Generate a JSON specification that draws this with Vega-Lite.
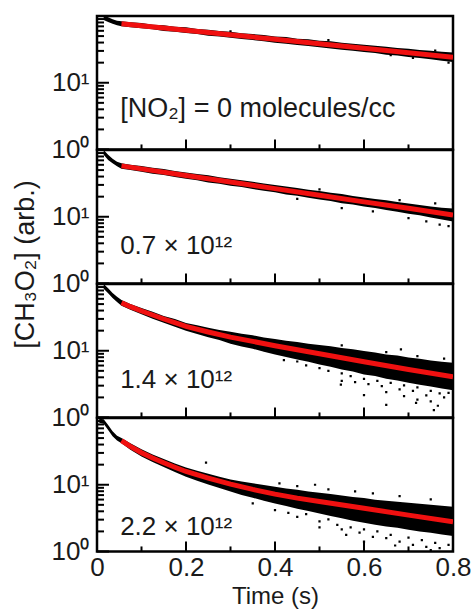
{
  "$schema": "https://vega.github.io/schema/vega-lite/v6.json",
  "background": "white",
  "padding": {"left": 9, "top": 14, "right": 2, "bottom": 2},
  "spacing": 0,
  "bounds": "flush",
  "config": {
    "view": {"stroke": "black", "strokeWidth": 2.5},
    "font": "Liberation Sans",
    "axis": {"labelFont": "Liberation Sans", "titleFont": "Liberation Sans", "labelColor": "#1a1a1a", "titleColor": "#1a1a1a", "labelFontSize": 26, "domain": false, "ticks": false, "tickSize": 0, "grid": false, "labelFlush": false, "labelOverlap": false, "titleFontWeight": "normal"}
  },
  "datasets": {
    "ticks": [
      {"k":"ymin","v":2},{"k":"ymin","v":3},{"k":"ymin","v":4},{"k":"ymin","v":5},{"k":"ymin","v":6},{"k":"ymin","v":7},{"k":"ymin","v":8},{"k":"ymin","v":9},
      {"k":"ymin","v":20},{"k":"ymin","v":30},{"k":"ymin","v":40},{"k":"ymin","v":50},{"k":"ymin","v":60},{"k":"ymin","v":70},{"k":"ymin","v":80},{"k":"ymin","v":90},
      {"k":"ymaj","v":1},{"k":"ymaj","v":10},
      {"k":"xmin","v":0.1},{"k":"xmin","v":0.3},{"k":"xmin","v":0.5},{"k":"xmin","v":0.7},
      {"k":"xmaj","v":0.2},{"k":"xmaj","v":0.4},{"k":"xmaj","v":0.6}
    ],
    "band": [
      {"p":1,"t":0.015,"c":102,"lo":87.1},{"p":1,"t":0.025,"c":95.5,"lo":81.3},{"p":1,"t":0.035,"c":89.1,"lo":76.7},{"p":1,"t":0.045,"c":85.1,"lo":72.4},{"p":1,"t":0.055,"c":83.2,"lo":70.0},{"p":1,"t":0.075,"c":80.4,"lo":67.6},{"p":1,"t":0.1,"c":78.5,"lo":65.3},{"p":1,"t":0.125,"c":74.1,"lo":63.1},{"p":1,"t":0.15,"c":72.4,"lo":59.6},{"p":1,"t":0.175,"c":69.2,"lo":58.2},{"p":1,"t":0.2,"c":67.6,"lo":55.6},{"p":1,"t":0.225,"c":63.8,"lo":53.7},{"p":1,"t":0.25,"c":62.4,"lo":50.7},{"p":1,"t":0.275,"c":59.6,"lo":49.5},{"p":1,"t":0.3,"c":58.2,"lo":47.3},{"p":1,"t":0.325,"c":55.0,"lo":45.2},{"p":1,"t":0.35,"c":53.7,"lo":43.7},{"p":1,"t":0.375,"c":51.9,"lo":41.7},{"p":1,"t":0.4,"c":49.5,"lo":39.8},{"p":1,"t":0.425,"c":48.4,"lo":38.5},{"p":1,"t":0.45,"c":45.7,"lo":36.7},{"p":1,"t":0.475,"c":44.7,"lo":35.5},{"p":1,"t":0.5,"c":42.7,"lo":33.9},{"p":1,"t":0.525,"c":41.7,"lo":32.7},{"p":1,"t":0.55,"c":39.8,"lo":31.3},{"p":1,"t":0.575,"c":38.5,"lo":30.2},{"p":1,"t":0.6,"c":37.2,"lo":28.8},{"p":1,"t":0.625,"c":35.9,"lo":27.9},{"p":1,"t":0.65,"c":34.7,"lo":26.3},{"p":1,"t":0.675,"c":33.1,"lo":25.7},{"p":1,"t":0.7,"c":32.4,"lo":24.3},{"p":1,"t":0.725,"c":30.9,"lo":23.4},{"p":1,"t":0.75,"c":30.2,"lo":22.4},{"p":1,"t":0.775,"c":29.2,"lo":21.4},{"p":1,"t":0.8,"c":28.5,"lo":20.4},
      {"p":2,"t":0.015,"c":100,"lo":85.1},{"p":2,"t":0.025,"c":85.1,"lo":70.8},{"p":2,"t":0.035,"c":74.1,"lo":63.1},{"p":2,"t":0.045,"c":66.8,"lo":56.9},{"p":2,"t":0.055,"c":63.1,"lo":52.5},{"p":2,"t":0.075,"c":60.3,"lo":50.1},{"p":2,"t":0.1,"c":57.5,"lo":47.3},{"p":2,"t":0.125,"c":54.3,"lo":44.2},{"p":2,"t":0.15,"c":51.9,"lo":42.2},{"p":2,"t":0.175,"c":48.4,"lo":39.4},{"p":2,"t":0.2,"c":46.2,"lo":37.2},{"p":2,"t":0.225,"c":43.7,"lo":35.1},{"p":2,"t":0.25,"c":41.7,"lo":32.7},{"p":2,"t":0.275,"c":38.9,"lo":31.3},{"p":2,"t":0.3,"c":37.2,"lo":29.2},{"p":2,"t":0.325,"c":35.1,"lo":27.9},{"p":2,"t":0.35,"c":33.5,"lo":26.0},{"p":2,"t":0.375,"c":31.6,"lo":24.5},{"p":2,"t":0.4,"c":29.9,"lo":23.2},{"p":2,"t":0.425,"c":28.5,"lo":21.6},{"p":2,"t":0.45,"c":26.9,"lo":20.7},{"p":2,"t":0.475,"c":25.4,"lo":19.3},{"p":2,"t":0.5,"c":24.3,"lo":18.2},{"p":2,"t":0.525,"c":22.9,"lo":17.2},{"p":2,"t":0.55,"c":21.9,"lo":16.0},{"p":2,"t":0.575,"c":20.4,"lo":15.3},{"p":2,"t":0.6,"c":19.5,"lo":14.3},{"p":2,"t":0.625,"c":18.4,"lo":13.5},{"p":2,"t":0.65,"c":17.6,"lo":12.6},{"p":2,"t":0.675,"c":16.6,"lo":11.9},{"p":2,"t":0.7,"c":15.8,"lo":11.1},{"p":2,"t":0.725,"c":15.0,"lo":10.5},{"p":2,"t":0.75,"c":14.3,"lo":9.77},{"p":2,"t":0.775,"c":13.6,"lo":9.12},{"p":2,"t":0.8,"c":13.3,"lo":8.51},
      {"p":3,"t":0.015,"c":100,"lo":85.1},{"p":3,"t":0.025,"c":86.1,"lo":72.4},{"p":3,"t":0.035,"c":73.3,"lo":61.7},{"p":3,"t":0.045,"c":64.6,"lo":53.7},{"p":3,"t":0.055,"c":57.5,"lo":47.3},{"p":3,"t":0.075,"c":50.1,"lo":41.2},{"p":3,"t":0.1,"c":43.7,"lo":35.1},{"p":3,"t":0.125,"c":38.5,"lo":30.2},{"p":3,"t":0.15,"c":33.1,"lo":26.3},{"p":3,"t":0.175,"c":29.9,"lo":22.9},{"p":3,"t":0.2,"c":26.0,"lo":20.0},{"p":3,"t":0.225,"c":24.0,"lo":17.8},{"p":3,"t":0.25,"c":22.1,"lo":16.0},{"p":3,"t":0.275,"c":20.4,"lo":14.5},{"p":3,"t":0.3,"c":19.3,"lo":12.7},{"p":3,"t":0.325,"c":18.0,"lo":11.6},{"p":3,"t":0.35,"c":17.0,"lo":10.7},{"p":3,"t":0.375,"c":15.8,"lo":9.66},{"p":3,"t":0.4,"c":15.0,"lo":8.81},{"p":3,"t":0.425,"c":14.1,"lo":8.04},{"p":3,"t":0.45,"c":13.5,"lo":7.41},{"p":3,"t":0.475,"c":12.7,"lo":6.84},{"p":3,"t":0.5,"c":12.2,"lo":6.24},{"p":3,"t":0.525,"c":11.7,"lo":5.75},{"p":3,"t":0.55,"c":11.0,"lo":5.25},{"p":3,"t":0.575,"c":10.5,"lo":4.90},{"p":3,"t":0.6,"c":9.89,"lo":4.42},{"p":3,"t":0.625,"c":9.44,"lo":4.17},{"p":3,"t":0.65,"c":8.81,"lo":3.80},{"p":3,"t":0.675,"c":8.51,"lo":3.59},{"p":3,"t":0.7,"c":7.94,"lo":3.31},{"p":3,"t":0.725,"c":7.59,"lo":3.09},{"p":3,"t":0.75,"c":7.16,"lo":2.92},{"p":3,"t":0.775,"c":6.84,"lo":2.72},{"p":3,"t":0.8,"c":6.61,"lo":2.57},
      {"p":4,"t":0.005,"c":97.7,"lo":85.1},{"p":4,"t":0.015,"c":95.5,"lo":82.2},{"p":4,"t":0.025,"c":78.5,"lo":66.1},{"p":4,"t":0.035,"c":63.1,"lo":53.1},{"p":4,"t":0.045,"c":54.3,"lo":46.2},{"p":4,"t":0.055,"c":50.1,"lo":41.7},{"p":4,"t":0.075,"c":41.7,"lo":33.5},{"p":4,"t":0.1,"c":33.9,"lo":26.6},{"p":4,"t":0.125,"c":28.5,"lo":21.9},{"p":4,"t":0.15,"c":24.3,"lo":18.4},{"p":4,"t":0.175,"c":20.9,"lo":15.5},{"p":4,"t":0.2,"c":18.2,"lo":13.2},{"p":4,"t":0.225,"c":16.2,"lo":11.5},{"p":4,"t":0.25,"c":14.6,"lo":10.1},{"p":4,"t":0.275,"c":13.2,"lo":8.91},{"p":4,"t":0.3,"c":12.0,"lo":7.94},{"p":4,"t":0.325,"c":11.2,"lo":7.00},{"p":4,"t":0.35,"c":10.5,"lo":6.38},{"p":4,"t":0.375,"c":9.89,"lo":5.75},{"p":4,"t":0.4,"c":9.33,"lo":5.25},{"p":4,"t":0.425,"c":8.81,"lo":4.79},{"p":4,"t":0.45,"c":8.41,"lo":4.37},{"p":4,"t":0.475,"c":7.94,"lo":4.03},{"p":4,"t":0.5,"c":7.59,"lo":3.72},{"p":4,"t":0.525,"c":7.24,"lo":3.39},{"p":4,"t":0.55,"c":6.92,"lo":3.16},{"p":4,"t":0.575,"c":6.53,"lo":2.88},{"p":4,"t":0.6,"c":6.31,"lo":2.69},{"p":4,"t":0.625,"c":5.96,"lo":2.51},{"p":4,"t":0.65,"c":5.75,"lo":2.37},{"p":4,"t":0.675,"c":5.56,"lo":2.26},{"p":4,"t":0.7,"c":5.37,"lo":2.11},{"p":4,"t":0.725,"c":5.19,"lo":2.00},{"p":4,"t":0.75,"c":5.01,"lo":1.91},{"p":4,"t":0.775,"c":4.84,"lo":1.80},{"p":4,"t":0.8,"c":4.68,"lo":1.70}
    ],
    "fit": [
      {"p":1,"t":0.055,"c":76.4},{"p":1,"t":0.1,"c":71.3},{"p":1,"t":0.2,"c":61.1},{"p":1,"t":0.3,"c":52.3},{"p":1,"t":0.4,"c":44.8},{"p":1,"t":0.5,"c":38.4},{"p":1,"t":0.6,"c":32.9},{"p":1,"t":0.7,"c":28.2},{"p":1,"t":0.8,"c":24.1},
      {"p":2,"t":0.055,"c":57.8},{"p":2,"t":0.1,"c":52.1},{"p":2,"t":0.2,"c":41.6},{"p":2,"t":0.3,"c":33.1},{"p":2,"t":0.4,"c":26.4},{"p":2,"t":0.5,"c":21.0},{"p":2,"t":0.6,"c":16.7},{"p":2,"t":0.7,"c":13.4},{"p":2,"t":0.8,"c":10.6},
      {"p":3,"t":0.055,"c":52.5},{"p":3,"t":0.075,"c":45.7},{"p":3,"t":0.1,"c":39.4},{"p":3,"t":0.125,"c":34.3},{"p":3,"t":0.15,"c":29.9},{"p":3,"t":0.175,"c":26.3},{"p":3,"t":0.2,"c":23.2},{"p":3,"t":0.25,"c":19.1},{"p":3,"t":0.3,"c":16.0},{"p":3,"t":0.35,"c":13.8},{"p":3,"t":0.4,"c":11.9},{"p":3,"t":0.5,"c":9.02},{"p":3,"t":0.6,"c":6.84},{"p":3,"t":0.7,"c":5.25},{"p":3,"t":0.8,"c":4.07},
      {"p":4,"t":0.055,"c":45.7},{"p":4,"t":0.075,"c":37.6},{"p":4,"t":0.1,"c":30.2},{"p":4,"t":0.125,"c":25.1},{"p":4,"t":0.15,"c":21.4},{"p":4,"t":0.175,"c":18.3},{"p":4,"t":0.2,"c":15.8},{"p":4,"t":0.25,"c":12.6},{"p":4,"t":0.3,"c":10.2},{"p":4,"t":0.35,"c":8.51},{"p":4,"t":0.4,"c":7.24},{"p":4,"t":0.45,"c":6.31},{"p":4,"t":0.5,"c":5.62},{"p":4,"t":0.6,"c":4.44},{"p":4,"t":0.7,"c":3.51},{"p":4,"t":0.8,"c":2.80}
    ],
    "pts": [
      {"p":1,"t":0.3,"c":58.9},{"p":1,"t":0.52,"c":43.5},{"p":1,"t":0.66,"c":26.0},{"p":1,"t":0.76,"c":30.2},{"p":1,"t":0.79,"c":20.0},{"p":1,"t":0.71,"c":23.6},
      {"p":2,"t":0.45,"c":18.6},{"p":2,"t":0.5,"c":25.7},{"p":2,"t":0.55,"c":13.5},{"p":2,"t":0.62,"c":12.0},{"p":2,"t":0.7,"c":9.55},{"p":2,"t":0.74,"c":8.5},{"p":2,"t":0.76,"c":15.8},{"p":2,"t":0.77,"c":7.6},{"p":2,"t":0.79,"c":7.24},{"p":2,"t":0.8,"c":15.5},{"p":2,"t":0.68,"c":17.8},
      {"p":3,"t":0.42,"c":7.24},{"p":3,"t":0.45,"c":6.9},{"p":3,"t":0.47,"c":6.03},{"p":3,"t":0.5,"c":5.5},{"p":3,"t":0.52,"c":5.0},{"p":3,"t":0.55,"c":4.57},{"p":3,"t":0.55,"c":3.55},{"p":3,"t":0.548,"c":3.1},{"p":3,"t":0.57,"c":4.17},{"p":3,"t":0.58,"c":3.39},{"p":3,"t":0.6,"c":3.8},{"p":3,"t":0.6,"c":2.16},{"p":3,"t":0.61,"c":3.16},{"p":3,"t":0.63,"c":3.55},{"p":3,"t":0.64,"c":2.95},{"p":3,"t":0.65,"c":2.4},{"p":3,"t":0.65,"c":1.55},{"p":3,"t":0.66,"c":3.31},{"p":3,"t":0.68,"c":2.63},{"p":3,"t":0.69,"c":3.02},{"p":3,"t":0.69,"c":2.09},{"p":3,"t":0.71,"c":2.51},{"p":3,"t":0.717,"c":1.65},{"p":3,"t":0.72,"c":2.82},{"p":3,"t":0.72,"c":1.86},{"p":3,"t":0.74,"c":2.14},{"p":3,"t":0.75,"c":2.51},{"p":3,"t":0.75,"c":1.74},{"p":3,"t":0.757,"c":1.29},{"p":3,"t":0.766,"c":1.5},{"p":3,"t":0.77,"c":2.29},{"p":3,"t":0.78,"c":2.0},{"p":3,"t":0.79,"c":2.34},{"p":3,"t":0.55,"c":12.0},{"p":3,"t":0.65,"c":9.55},{"p":3,"t":0.683,"c":10.5},{"p":3,"t":0.72,"c":8.3},{"p":3,"t":0.78,"c":7.6},
      {"p":4,"t":0.245,"c":21.4},{"p":4,"t":0.35,"c":5.25},{"p":4,"t":0.4,"c":4.17},{"p":4,"t":0.41,"c":10.5},{"p":4,"t":0.43,"c":3.8},{"p":4,"t":0.45,"c":3.31},{"p":4,"t":0.45,"c":9.55},{"p":4,"t":0.47,"c":3.63},{"p":4,"t":0.49,"c":10.0},{"p":4,"t":0.5,"c":2.82},{"p":4,"t":0.5,"c":2.29},{"p":4,"t":0.52,"c":3.02},{"p":4,"t":0.52,"c":8.51},{"p":4,"t":0.54,"c":2.51},{"p":4,"t":0.55,"c":2.14},{"p":4,"t":0.56,"c":1.78},{"p":4,"t":0.57,"c":2.29},{"p":4,"t":0.58,"c":7.94},{"p":4,"t":0.59,"c":1.91},{"p":4,"t":0.6,"c":2.14},{"p":4,"t":0.6,"c":1.41},{"p":4,"t":0.62,"c":1.66},{"p":4,"t":0.62,"c":7.41},{"p":4,"t":0.63,"c":2.0},{"p":4,"t":0.65,"c":1.58},{"p":4,"t":0.66,"c":1.78},{"p":4,"t":0.67,"c":1.23},{"p":4,"t":0.68,"c":1.41},{"p":4,"t":0.68,"c":6.76},{"p":4,"t":0.7,"c":1.62},{"p":4,"t":0.71,"c":1.26},{"p":4,"t":0.73,"c":1.48},{"p":4,"t":0.74,"c":1.17},{"p":4,"t":0.75,"c":1.05},{"p":4,"t":0.75,"c":6.03},{"p":4,"t":0.76,"c":1.35},{"p":4,"t":0.77,"c":1.12},{"p":4,"t":0.79,"c":1.26},{"p":4,"t":0.8,"c":1.07}
    ],
    "annot": [
      {"p":1,"label":"[NO₂] = 0 molecules/cc"},
      {"p":2,"label":"0.7 × 10¹²"},
      {"p":3,"label":"1.4 × 10¹²"},
      {"p":4,"label":"2.2 × 10¹²"}
    ]
  },
  "vconcat": [
    {
      "width": 356, "height": 133.5,
      "layer": [
        {"data": {"name": "band"}, "transform": [{"filter": "datum.p == 1"}], "mark": {"type": "area", "color": "black", "clip": true},
          "encoding": {
            "x": {"field": "t", "type": "quantitative", "scale": {"domain": [0, 0.8], "nice": false, "zero": false}, "axis": {"values": [0,0.2,0.4,0.6,0.8], "labels": false, "title": null}},
            "y": {"field": "c", "type": "quantitative", "scale": {"type": "log", "domain": [1, 100], "nice": false},
              "axis": {"values": [1,10], "labelExpr": "datum.value == 1 ? '10⁰' : '10¹'", "labelPadding": 8, "labelBaseline": "middle", "title": null}},
            "y2": {"field": "lo"}}},
        {"data": {"name": "pts"}, "transform": [{"filter": "datum.p == 1"}], "mark": {"type": "point", "shape": "square", "filled": true, "size": 5, "color": "black", "opacity": 1, "clip": true},
          "encoding": {"x": {"field": "t", "type": "quantitative"}, "y": {"field": "c", "type": "quantitative"}}},
        {"data": {"name": "fit"}, "transform": [{"filter": "datum.p == 1"}], "mark": {"type": "line", "color": "#f01010", "strokeWidth": 5, "clip": true},
          "encoding": {"x": {"field": "t", "type": "quantitative"}, "y": {"field": "c", "type": "quantitative"}}},
        {"data": {"name": "annot"}, "transform": [{"filter": "datum.p == 1"}], "mark": {"type": "text", "align": "left", "baseline": "middle", "fontSize": 27, "font": "Liberation Sans", "color": "#1a1a1a"},
          "encoding": {"x": {"datum": 0.052, "type": "quantitative"}, "y": {"datum": 4.1, "type": "quantitative"}, "text": {"field": "label", "type": "nominal"}}},
        {"data": {"name": "ticks"}, "transform": [{"filter": "datum.k == 'ymin'"}], "mark": {"type": "rule", "color": "black", "strokeWidth": 2},
          "encoding": {"x": {"datum": 0, "type": "quantitative"}, "x2": {"datum": 0.0157}, "y": {"field": "v", "type": "quantitative"}}},
        {"data": {"name": "ticks"}, "transform": [{"filter": "datum.k == 'ymaj'"}], "mark": {"type": "rule", "color": "black", "strokeWidth": 2},
          "encoding": {"x": {"datum": 0, "type": "quantitative"}, "x2": {"datum": 0.027}, "y": {"field": "v", "type": "quantitative"}}},
        {"data": {"name": "ticks"}, "transform": [{"filter": "datum.k == 'xmin'"}], "mark": {"type": "rule", "color": "black", "strokeWidth": 2},
          "encoding": {"x": {"field": "v", "type": "quantitative"}, "y": {"datum": 1, "type": "quantitative"}, "y2": {"datum": 1.19}}},
        {"data": {"name": "ticks"}, "transform": [{"filter": "datum.k == 'xmaj'"}], "mark": {"type": "rule", "color": "black", "strokeWidth": 2},
          "encoding": {"x": {"field": "v", "type": "quantitative"}, "y": {"datum": 1, "type": "quantitative"}, "y2": {"datum": 1.41}}}
      ]
    },
    {
      "width": 356, "height": 133.5,
      "layer": [
        {"data": {"name": "band"}, "transform": [{"filter": "datum.p == 2"}], "mark": {"type": "area", "color": "black", "clip": true},
          "encoding": {
            "x": {"field": "t", "type": "quantitative", "scale": {"domain": [0, 0.8], "nice": false, "zero": false}, "axis": {"values": [0,0.2,0.4,0.6,0.8], "labels": false, "title": null}},
            "y": {"field": "c", "type": "quantitative", "scale": {"type": "log", "domain": [1, 100], "nice": false},
              "axis": {"values": [1,10], "labelExpr": "datum.value == 1 ? '10⁰' : '10¹'", "labelPadding": 8, "labelBaseline": "middle", "title": null}},
            "y2": {"field": "lo"}}},
        {"data": {"name": "pts"}, "transform": [{"filter": "datum.p == 2"}], "mark": {"type": "point", "shape": "square", "filled": true, "size": 5, "color": "black", "opacity": 1, "clip": true},
          "encoding": {"x": {"field": "t", "type": "quantitative"}, "y": {"field": "c", "type": "quantitative"}}},
        {"data": {"name": "fit"}, "transform": [{"filter": "datum.p == 2"}], "mark": {"type": "line", "color": "#f01010", "strokeWidth": 5, "clip": true},
          "encoding": {"x": {"field": "t", "type": "quantitative"}, "y": {"field": "c", "type": "quantitative"}}},
        {"data": {"name": "annot"}, "transform": [{"filter": "datum.p == 2"}], "mark": {"type": "text", "align": "left", "baseline": "middle", "fontSize": 26, "font": "Liberation Sans", "color": "#1a1a1a"},
          "encoding": {"x": {"datum": 0.052, "type": "quantitative"}, "y": {"datum": 3.6, "type": "quantitative"}, "text": {"field": "label", "type": "nominal"}}},
        {"data": {"name": "ticks"}, "transform": [{"filter": "datum.k == 'ymin'"}], "mark": {"type": "rule", "color": "black", "strokeWidth": 2},
          "encoding": {"x": {"datum": 0, "type": "quantitative"}, "x2": {"datum": 0.0157}, "y": {"field": "v", "type": "quantitative"}}},
        {"data": {"name": "ticks"}, "transform": [{"filter": "datum.k == 'ymaj'"}], "mark": {"type": "rule", "color": "black", "strokeWidth": 2},
          "encoding": {"x": {"datum": 0, "type": "quantitative"}, "x2": {"datum": 0.027}, "y": {"field": "v", "type": "quantitative"}}},
        {"data": {"name": "ticks"}, "transform": [{"filter": "datum.k == 'xmin'"}], "mark": {"type": "rule", "color": "black", "strokeWidth": 2},
          "encoding": {"x": {"field": "v", "type": "quantitative"}, "y": {"datum": 1, "type": "quantitative"}, "y2": {"datum": 1.19}}},
        {"data": {"name": "ticks"}, "transform": [{"filter": "datum.k == 'xmaj'"}], "mark": {"type": "rule", "color": "black", "strokeWidth": 2},
          "encoding": {"x": {"field": "v", "type": "quantitative"}, "y": {"datum": 1, "type": "quantitative"}, "y2": {"datum": 1.41}}}
      ]
    },
    {
      "width": 356, "height": 133.5,
      "layer": [
        {"data": {"name": "band"}, "transform": [{"filter": "datum.p == 3"}], "mark": {"type": "area", "color": "black", "clip": true},
          "encoding": {
            "x": {"field": "t", "type": "quantitative", "scale": {"domain": [0, 0.8], "nice": false, "zero": false}, "axis": {"values": [0,0.2,0.4,0.6,0.8], "labels": false, "title": null}},
            "y": {"field": "c", "type": "quantitative", "scale": {"type": "log", "domain": [1, 100], "nice": false},
              "axis": {"values": [1,10], "labelExpr": "datum.value == 1 ? '10⁰' : '10¹'", "labelPadding": 8, "labelBaseline": "middle",
                "title": "[CH₃O₂] (arb.)", "titleFontSize": 27, "titlePadding": 12, "titleY": -20}},
            "y2": {"field": "lo"}}},
        {"data": {"name": "pts"}, "transform": [{"filter": "datum.p == 3"}], "mark": {"type": "point", "shape": "square", "filled": true, "size": 5, "color": "black", "opacity": 1, "clip": true},
          "encoding": {"x": {"field": "t", "type": "quantitative"}, "y": {"field": "c", "type": "quantitative"}}},
        {"data": {"name": "fit"}, "transform": [{"filter": "datum.p == 3"}], "mark": {"type": "line", "color": "#f01010", "strokeWidth": 5, "clip": true},
          "encoding": {"x": {"field": "t", "type": "quantitative"}, "y": {"field": "c", "type": "quantitative"}}},
        {"data": {"name": "annot"}, "transform": [{"filter": "datum.p == 3"}], "mark": {"type": "text", "align": "left", "baseline": "middle", "fontSize": 26, "font": "Liberation Sans", "color": "#1a1a1a"},
          "encoding": {"x": {"datum": 0.052, "type": "quantitative"}, "y": {"datum": 3.66, "type": "quantitative"}, "text": {"field": "label", "type": "nominal"}}},
        {"data": {"name": "ticks"}, "transform": [{"filter": "datum.k == 'ymin'"}], "mark": {"type": "rule", "color": "black", "strokeWidth": 2},
          "encoding": {"x": {"datum": 0, "type": "quantitative"}, "x2": {"datum": 0.0157}, "y": {"field": "v", "type": "quantitative"}}},
        {"data": {"name": "ticks"}, "transform": [{"filter": "datum.k == 'ymaj'"}], "mark": {"type": "rule", "color": "black", "strokeWidth": 2},
          "encoding": {"x": {"datum": 0, "type": "quantitative"}, "x2": {"datum": 0.027}, "y": {"field": "v", "type": "quantitative"}}},
        {"data": {"name": "ticks"}, "transform": [{"filter": "datum.k == 'xmin'"}], "mark": {"type": "rule", "color": "black", "strokeWidth": 2},
          "encoding": {"x": {"field": "v", "type": "quantitative"}, "y": {"datum": 1, "type": "quantitative"}, "y2": {"datum": 1.19}}},
        {"data": {"name": "ticks"}, "transform": [{"filter": "datum.k == 'xmaj'"}], "mark": {"type": "rule", "color": "black", "strokeWidth": 2},
          "encoding": {"x": {"field": "v", "type": "quantitative"}, "y": {"datum": 1, "type": "quantitative"}, "y2": {"datum": 1.41}}}
      ]
    },
    {
      "width": 356, "height": 133.5,
      "layer": [
        {"data": {"name": "band"}, "transform": [{"filter": "datum.p == 4"}], "mark": {"type": "area", "color": "black", "clip": true},
          "encoding": {
            "x": {"field": "t", "type": "quantitative", "scale": {"domain": [0, 0.8], "nice": false, "zero": false},
              "axis": {"values": [0,0.2,0.4,0.6,0.8], "labelExpr": "datum.value == 0 ? '0' : format(datum.value, '.1f')", "labelPadding": 3, "title": "Time (s)", "titleFontSize": 24, "titlePadding": 4}},
            "y": {"field": "c", "type": "quantitative", "scale": {"type": "log", "domain": [1, 100], "nice": false},
              "axis": {"values": [1,10], "labelExpr": "datum.value == 1 ? '10⁰' : '10¹'", "labelPadding": 8, "labelBaseline": "middle", "title": null}},
            "y2": {"field": "lo"}}},
        {"data": {"name": "pts"}, "transform": [{"filter": "datum.p == 4"}], "mark": {"type": "point", "shape": "square", "filled": true, "size": 5, "color": "black", "opacity": 1, "clip": true},
          "encoding": {"x": {"field": "t", "type": "quantitative"}, "y": {"field": "c", "type": "quantitative"}}},
        {"data": {"name": "fit"}, "transform": [{"filter": "datum.p == 4"}], "mark": {"type": "line", "color": "#f01010", "strokeWidth": 5, "clip": true},
          "encoding": {"x": {"field": "t", "type": "quantitative"}, "y": {"field": "c", "type": "quantitative"}}},
        {"data": {"name": "annot"}, "transform": [{"filter": "datum.p == 4"}], "mark": {"type": "text", "align": "left", "baseline": "middle", "fontSize": 26, "font": "Liberation Sans", "color": "#1a1a1a"},
          "encoding": {"x": {"datum": 0.052, "type": "quantitative"}, "y": {"datum": 2.33, "type": "quantitative"}, "text": {"field": "label", "type": "nominal"}}},
        {"data": {"name": "ticks"}, "transform": [{"filter": "datum.k == 'ymin'"}], "mark": {"type": "rule", "color": "black", "strokeWidth": 2},
          "encoding": {"x": {"datum": 0, "type": "quantitative"}, "x2": {"datum": 0.0157}, "y": {"field": "v", "type": "quantitative"}}},
        {"data": {"name": "ticks"}, "transform": [{"filter": "datum.k == 'ymaj'"}], "mark": {"type": "rule", "color": "black", "strokeWidth": 2},
          "encoding": {"x": {"datum": 0, "type": "quantitative"}, "x2": {"datum": 0.027}, "y": {"field": "v", "type": "quantitative"}}},
        {"data": {"name": "ticks"}, "transform": [{"filter": "datum.k == 'xmin'"}], "mark": {"type": "rule", "color": "black", "strokeWidth": 2},
          "encoding": {"x": {"field": "v", "type": "quantitative"}, "y": {"datum": 1, "type": "quantitative"}, "y2": {"datum": 1.19}}},
        {"data": {"name": "ticks"}, "transform": [{"filter": "datum.k == 'xmaj'"}], "mark": {"type": "rule", "color": "black", "strokeWidth": 2},
          "encoding": {"x": {"field": "v", "type": "quantitative"}, "y": {"datum": 1, "type": "quantitative"}, "y2": {"datum": 1.41}}}
      ]
    }
  ]
}
